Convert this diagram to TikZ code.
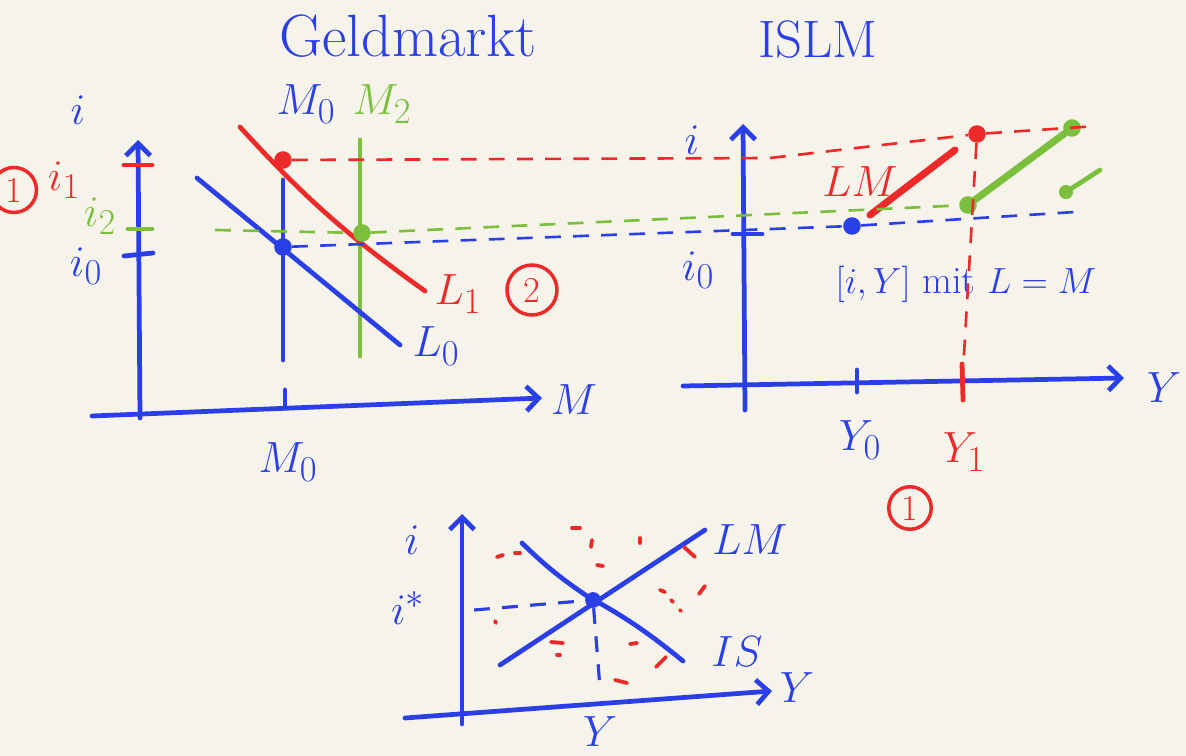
\documentclass[tikz,border=0pt]{standalone}
\usetikzlibrary{arrows.meta}
\definecolor{paper}{HTML}{F6F4EA}
\definecolor{penblue}{HTML}{2B3FE6}
\definecolor{penred}{HTML}{EC2A2A}
\definecolor{pengreen}{HTML}{7CBF3C}
\tikzset{
    axisarrow/.style={-{Straight Barb[length=7pt,width=14pt]}, line width=2.7pt, penblue, line cap=round},
    pen/.style={line width=2.7pt, line cap=round, draw=#1},
    guide/.style={line width=1.5pt, dash pattern=on 9pt off 7pt, draw=#1},
    spot/.style={shape=circle, inner sep=0pt, minimum size=#1},
    lbl/.style={text=#1, font=\Huge},
    ring/.style={shape=circle, draw=penred, line width=2pt, text=penred, inner sep=0pt, minimum size=0.85cm, font=\huge}
}

\begin{document}
\begin{tikzpicture}[x=0.02cm, y=-0.02cm]
    \fill[paper] (0,0) rectangle (1186,756);
    \useasboundingbox (0,0) rectangle (1186,756);

    % titles
    \node[lbl=penblue, font=\fontsize{34}{38}\selectfont] (tgeld) at (408,36) {Geldmarkt};
    \node[lbl=penblue, font=\fontsize{30}{34}\selectfont] (tislm) at (818,40) {ISLM};

    % money market
    \coordinate (gy0) at (140,418);
    \coordinate (gy1) at (138,140);
    \coordinate (gx0) at (92,416);
    \coordinate (gx1) at (542,398);
    \path [axisarrow](gy0) edge (gy1);
    \path [axisarrow](gx0) edge (gx1);
    \node[lbl=penblue] (gi) at (78,110) {$i$};
    \node[lbl=penblue] (gm) at (574,400) {$M$};

    \coordinate (ti1a) at (124,165); \coordinate (ti1b) at (152,165);
    \coordinate (ti2a) at (128,229); \coordinate (ti2b) at (152,229);
    \coordinate (ti0a) at (124,256); \coordinate (ti0b) at (153,253);
    \path [pen=penred](ti1a) edge (ti1b);
    \path [pen=pengreen](ti2a) edge (ti2b);
    \path [pen=penblue](ti0a) edge (ti0b);
    \node[lbl=penred] (li1) at (64,180) {$i_1$};
    \node[lbl=pengreen] (li2) at (100,216) {$i_2$};
    \node[lbl=penblue] (li0) at (86,266) {$i_0$};
    \node[ring, minimum size=0.9cm] (c1a) at (14,190) {1};

    \coordinate (m0top) at (283,180);
    \coordinate (m0bot) at (283,360);
    \coordinate (m2top) at (360,140);
    \coordinate (m2bot) at (360,356);
    \path [pen=penblue](m0top) edge (m0bot);
    \path [pen=pengreen](m2top) edge (m2bot);
    \node[lbl=penblue] (lm0) at (306,104) {$M_0$};
    \node[lbl=pengreen] (lm2) at (382,104) {$M_2$};

    \coordinate (l0a) at (197,178);
    \coordinate (l0b) at (400,345);
    \coordinate (l1a) at (240,127);
    \coordinate (l1b) at (425,291);
    \path [pen=penblue](l0a) edge (l0b);
    \draw [pen=penred](l1a) to[bend right=6] (l1b);
    \node[lbl=penblue] (ll0) at (436,346) {$L_0$};
    \node[lbl=penred] (ll1) at (458,294) {$L_1$};
    \node[ring, minimum size=1cm] (c2) at (532,290) {2};

    \coordinate (tm0a) at (285,390);
    \coordinate (tm0b) at (285,408);
    \path [pen=penblue](tm0a) edge (tm0b);
    \node[lbl=penblue] (lm0b) at (288,462) {$M_0$};

    \node[spot=10pt, fill=penred] (pr) at (283,160) {};
    \node[spot=10pt, fill=penblue] (pb) at (283,247) {};
    \node[spot=10pt, fill=pengreen] (pg) at (362,233) {};

    % ISLM
    \coordinate (ry0) at (745,410);
    \coordinate (ry1) at (743,124);
    \coordinate (rx0) at (683,386);
    \coordinate (rx1) at (1124,378);
    \path [axisarrow](ry0) edge (ry1);
    \path [axisarrow](rx0) edge (rx1);
    \node[lbl=penblue, font=\fontsize{34}{38}\selectfont] (ry) at (1164,388) {$Y$};
    \node[lbl=penblue] (ri) at (692,140) {$i$};
    \node[lbl=penblue] (ri0) at (698,270) {$i_0$};
    \coordinate (tri0a) at (733,234); \coordinate (tri0b) at (762,234);
    \path [pen=penblue](tri0a) edge (tri0b);

    \coordinate (ty0a) at (857,370); \coordinate (ty0b) at (857,392);
    \coordinate (ty1a) at (962,364); \coordinate (ty1b) at (963,400);
    \path [pen=penblue](ty0a) edge (ty0b);
    \path [pen=penred](ty1a) edge (ty1b);
    \node[lbl=penblue] (ly0) at (860,440) {$Y_0$};
    \node[lbl=penred] (ly1) at (964,452) {$Y_1$};
    \node[ring] (c1b) at (910,508) {1};

    \node[spot=10pt, fill=penblue] (qb) at (852,226) {};
    \node[spot=10pt, fill=penred] (qr) at (977,134) {};
    \node[spot=10pt, fill=pengreen] (qg) at (968,205) {};
    \node[spot=10pt, fill=pengreen] (qg2) at (1072,128) {};
    \node[spot=8pt, fill=pengreen] (qg3) at (1066,192) {};
    \coordinate (lma) at (870,215);
    \coordinate (lmb) at (955,150);
    \coordinate (g3end) at (1100,170);
    \path [pen=penred, line width=4pt](lma) edge (lmb);
    \path [pen=pengreen, line width=4pt](qg) edge (qg2);
    \path [pen=pengreen](qg3) edge (g3end);
    \node[lbl=penred] (llm) at (860,182) {$LM$};
    \node[lbl=penblue, font=\fontsize{22}{26}\selectfont] (cond) at (966,284) {$[i,Y]$ mit $L=M$};

    % guides across both panels
    \coordinate (rkink) at (770,158);
    \coordinate (rend) at (1098,126);
    \coordinate (gstart) at (215,230);
    \coordinate (bend) at (1075,212);
    \coordinate (y1foot) at (962,388);
    \draw [guide=penred](pr) -- (rkink) -- (qr);
    \path [guide=penred](qr) edge (rend);
    \path [guide=penred](qr) edge (y1foot);
    \path [guide=pengreen](gstart) edge (pg);
    \path [guide=pengreen](pg) edge (qg);
    \path [guide=penblue](pb) edge (qb);
    \path [guide=penblue](qb) edge (bend);

    % IS-LM cross
    \coordinate (by0) at (462,724);
    \coordinate (by1) at (462,514);
    \coordinate (bx0) at (405,718);
    \coordinate (bx1) at (772,691);
    \path [axisarrow](by0) edge (by1);
    \path [axisarrow](bx0) edge (bx1);
    \node[lbl=penblue] (bi) at (412,540) {$i$};
    \node[lbl=penblue] (bistar) at (408,608) {$i^*$};
    \node[lbl=penblue] (byax) at (797,688) {$Y$};
    \node[lbl=penblue] (by) at (600,732) {$Y$};

    \node[spot=9pt, fill=penblue] (eq) at (593,600) {};
    \coordinate (isa) at (522,543);
    \coordinate (isb) at (683,661);
    \coordinate (lmc) at (500,665);
    \coordinate (lmd) at (705,530);
    \draw [pen=penblue](isa) to[bend right=5] (eq) to[bend left=5] (isb);
    \path [pen=penblue](lmc) edge (lmd);
    \node[lbl=penblue] (blm) at (750,540) {$LM$};
    \node[lbl=penblue] (bis) at (737,652) {$IS$};

    \coordinate (bhl) at (474,610);
    \coordinate (bvl) at (600,688);
    \path [guide=penblue, line width=1.8pt](bhl) edge (eq);
    \path [guide=penblue, line width=1.8pt](eq) edge (bvl);

    % red marks round the cross
    \foreach \xa/\ya/\xb/\yb in {572/528/580/528, 592/540/591/547, 597/565/603/566,
        640/538/640/543, 684/547/695/557, 497/557/503/555, 515/553/520/553,
        660/590/665/592, 671/600/673/602, 680/610/681/611, 699/594/705/586,
        495/621/496/623, 551/642/563/643, 557/655/560/655, 630/644/637/643,
        656/667/666/657, 615/680/627/683}
        \draw[pen=penred, line width=2.2pt] (\xa,\ya) -- (\xb,\yb);
\end{tikzpicture}
\end{document}
